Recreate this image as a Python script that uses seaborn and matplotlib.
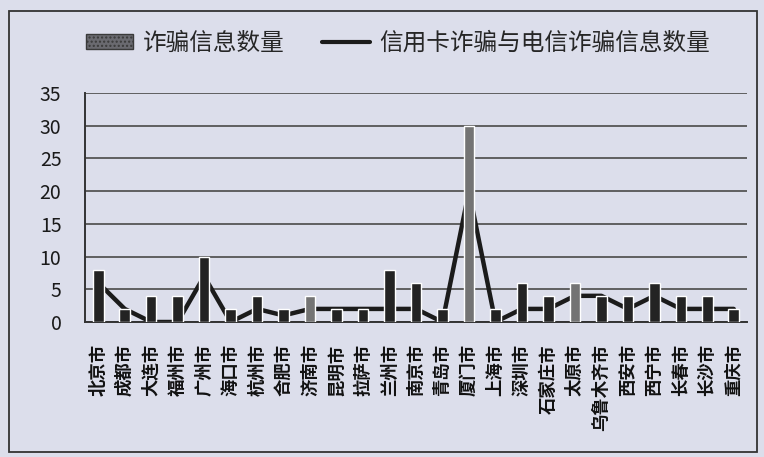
import matplotlib
matplotlib.use("Agg")
import matplotlib.pyplot as plt
import pandas as pd
import seaborn as sns
from matplotlib.lines import Line2D
from matplotlib.patches import Patch, Rectangle

# --- Data ---
CITIES = [
    "北京市", "成都市", "大连市", "福州市", "广州市", "海口市", "杭州市",
    "合肥市", "济南市", "昆明市", "拉萨市", "兰州市", "南京市", "青岛市",
    "厦门市", "上海市", "深圳市", "石家庄市", "太原市", "乌鲁木齐市",
    "西安市", "西宁市", "长春市", "长沙市", "重庆市",
]
FRAUD_INFO = [8, 2, 4, 4, 10, 2, 4, 2, 4, 2, 2, 8, 6, 2, 30, 2, 6, 4, 6, 4, 4, 6, 4, 4, 2]
CARD_TELECOM_FRAUD = [6, 2, 0, 0, 7, 0, 2, 1, 2, 2, 2, 2, 2, 0, 20, 0, 2, 2, 4, 4, 2, 4, 2, 2, 2]
HIGHLIGHT = ["济南市", "厦门市", "太原市"]  # bars printed in lighter grey

BAR_LABEL = "诈骗信息数量"
LINE_LABEL = "信用卡诈骗与电信诈骗信息数量"

# --- Style ---
BG = "#dcdeeb"
DARK = "#232323"
GREY = "#747474"

sns.set_theme(style="white")
plt.rcParams["font.family"] = ["Noto Sans CJK SC", "DejaVu Sans"]
plt.rcParams["axes.unicode_minus"] = False

df = pd.DataFrame({"city": CITIES, "fraud": FRAUD_INFO, "card": CARD_TELECOM_FRAUD})
palette = {c: (GREY if c in HIGHLIGHT else DARK) for c in CITIES}

fig = plt.figure(figsize=(7.64, 4.57), dpi=100, facecolor=BG)
ax = fig.add_axes([85 / 764, 1 - 322 / 457, (747 - 85) / 764, (322 - 93) / 457])
ax.set_facecolor(BG)

# line sits behind the bars (the grey bars hide its peak in the original)
sns.lineplot(
    data=df, x="city", y="card", sort=False, errorbar=None,
    color="#1b1b1b", linewidth=3.2, ax=ax, zorder=2,
)
sns.barplot(
    data=df, x="city", y="fraud", hue="city", palette=palette, legend=False,
    width=0.4, saturation=1, ax=ax, zorder=3,
)

ax.set_ylim(0, 35)
ax.set_xlim(-0.5, len(CITIES) - 0.5)
ax.set_yticks(range(0, 36, 5))
ax.yaxis.grid(True, color="#555555", linewidth=1.3, zorder=0)
ax.set_axisbelow(True)
ax.set_xlabel("")
ax.set_ylabel("")

for side in ["top", "right"]:
    ax.spines[side].set_visible(False)
for side in ["left", "bottom"]:
    ax.spines[side].set_color("#333333")
    ax.spines[side].set_linewidth(1.4)

ax.tick_params(axis="y", direction="out", length=6, width=1.2, color="#444444",
               pad=11, labelsize=14, labelcolor="#1a1a1a")
ax.set_xticks(range(len(CITIES)))
ax.set_xticklabels(CITIES, rotation=90, va="top", ha="center", fontweight="bold")
ax.tick_params(axis="x", which="major", length=0, pad=16, labelsize=12.5, labelcolor="#111111")
ax.set_xticks([i + 0.5 for i in range(-1, len(CITIES))], minor=True)
ax.tick_params(axis="x", which="minor", direction="out", length=4, width=1, color="#444444")

# legend across the top
handles = [
    Patch(facecolor="#6a6a70", edgecolor="#3a3a3a", hatch="....", label=BAR_LABEL),
    Line2D([0], [0], color="#1b1b1b", linewidth=3.0, label=LINE_LABEL),
]
fig.legend(
    handles=handles, loc="center", bbox_to_anchor=(398 / 764, 1 - 43 / 457),
    ncol=2, frameon=False, fontsize=17, handlelength=2.0, handletextpad=0.4,
    columnspacing=1.6, handleheight=0.6,
)

# scanned chart frame
fig.patches.append(Rectangle(
    (9 / 764, 1 - 452 / 457), (757 - 9) / 764, (452 - 11) / 457,
    transform=fig.transFigure, fill=False, edgecolor="#333333", linewidth=1.3,
))

fig.savefig("out.png", dpi=100, facecolor=BG)
